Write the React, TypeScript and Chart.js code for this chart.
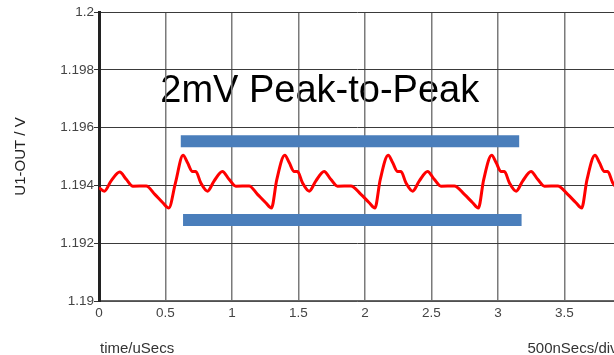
import React, { useEffect, useRef } from "react";
import { Chart, registerables } from "chart.js";

Chart.register(...registerables);

// ---- Data ----
const timeUs: number[] = [
  0.0, 0.04, 0.09, 0.156, 0.205, 0.255, 0.355, 0.42, 0.48, 0.525, 0.575,
  0.632, 0.665, 0.703, 0.728, 0.765, 0.816, 0.865, 0.928, 0.978, 1.029, 1.129,
  1.192, 1.254, 1.297, 1.337,
  1.397, 1.43, 1.468, 1.493, 1.53, 1.581, 1.63, 1.693, 1.743, 1.794, 1.894,
  1.97, 2.032, 2.075, 2.115,
  2.175, 2.208, 2.246, 2.271, 2.308, 2.359, 2.408, 2.471, 2.521, 2.572, 2.672,
  2.748, 2.81, 2.853, 2.893,
  2.953, 2.986, 3.024, 3.049, 3.086, 3.137, 3.186, 3.249, 3.299, 3.35, 3.45,
  3.525, 3.587, 3.63, 3.67,
  3.73, 3.763, 3.801, 3.826, 3.863, 3.914,
];
const outV: number[] = [
  1.19392, 1.1938, 1.19415, 1.19446, 1.19421, 1.19397, 1.19398, 1.19369, 1.1934, 1.19322, 1.19409,
  1.19504, 1.19479, 1.19448, 1.19448, 1.19409, 1.1938, 1.19415, 1.19448, 1.19421, 1.19397, 1.19398,
  1.19369, 1.1934, 1.19322, 1.1942,
  1.19504, 1.19479, 1.19448, 1.19448, 1.19409, 1.1938, 1.19415, 1.19448, 1.19421, 1.19397, 1.19398,
  1.19369, 1.1934, 1.19322, 1.1942,
  1.19504, 1.19479, 1.19448, 1.19448, 1.19409, 1.1938, 1.19415, 1.19448, 1.19421, 1.19397, 1.19398,
  1.19369, 1.1934, 1.19322, 1.1942,
  1.19504, 1.19479, 1.19448, 1.19448, 1.19409, 1.1938, 1.19415, 1.19448, 1.19421, 1.19397, 1.19398,
  1.19369, 1.1934, 1.19322, 1.1942,
  1.19504, 1.19479, 1.19448, 1.19448, 1.19409, 1.1938,
];

// Peak-to-peak marker bars
const topBarX: number[] = [0.615, 3.16];
const topBarV = 1.195525;
const bottomBarX: number[] = [0.632, 3.178];
const bottomBarV = 1.192806;

// Tick values
const xTickValues: number[] = [0, 0.5, 1, 1.5, 2, 2.5, 3, 3.5];
const yTickValues: number[] = [1.19, 1.192, 1.194, 1.196, 1.198, 1.2];
const yTickLabels: string[] = ["1.19", "1.192", "1.194", "1.196", "1.198", "1.2"];
const xTickLabels: string[] = ["0", "0.5", "1", "1.5", "2", "2.5", "3", "3.5"];

// Texts
const annotationText = "2mV Peak-to-Peak";
const annotationX = 0.461;
const annotationV = 1.196903;
const yTitle = "U1-OUT / V";
const xTitleLeft = "time/uSecs";
const xTitleRight = "500nSecs/div";

const FONT = '"Liberation Sans", Arial, Helvetica, sans-serif';

export default function App() {
  const ref = useRef<HTMLCanvasElement | null>(null);

  useEffect(() => {
    if (!ref.current) return;

    const textPlugin = {
      id: "texts",
      beforeDraw(chart: any) {
        const { ctx, scales, chartArea } = chart;
        const x = scales.x;
        const y = scales.y;
        ctx.save();
        ctx.fillStyle = "#000";
        ctx.textBaseline = "alphabetic";
        ctx.textAlign = "left";
        ctx.font = `38px ${FONT}`;
        ctx.fillText(annotationText, x.getPixelForValue(annotationX), y.getPixelForValue(annotationV));
        ctx.fillStyle = "#333";
        ctx.font = `15px ${FONT}`;
        ctx.fillText(xTitleLeft, chartArea.left + 1, 353);
        ctx.fillText(xTitleRight, 527.5, 353);
        ctx.restore();
      },
    };

    const chart = new Chart(ref.current, {
      type: "line",
      data: {
        datasets: [
          {
            data: timeUs.map((t, i) => ({ x: t, y: outV[i] })),
            borderColor: "#ff0000",
            borderWidth: 3,
            pointRadius: 0,
            cubicInterpolationMode: "monotone",
            fill: false,
          },
          {
            data: topBarX.map((t) => ({ x: t, y: topBarV })),
            borderColor: "#4a7ebb",
            borderWidth: 12,
            borderCapStyle: "butt",
            pointRadius: 0,
            fill: false,
          },
          {
            data: bottomBarX.map((t) => ({ x: t, y: bottomBarV })),
            borderColor: "#4a7ebb",
            borderWidth: 12,
            borderCapStyle: "butt",
            pointRadius: 0,
            fill: false,
          },
        ],
      },
      options: {
        responsive: false,
        animation: false,
        layout: { padding: { top: 12, right: 0, left: 0, bottom: 0 } },
        plugins: {
          legend: { display: false },
          tooltip: { enabled: false },
        },
        scales: {
          x: {
            type: "linear",
            min: 0,
            max: 3.873,
            afterBuildTicks: (scale: any) => {
              scale.ticks = xTickValues.map((v) => ({ value: v }));
            },
            afterFit: (scale: any) => {
              scale.height = 54;
            },
            ticks: {
              callback: (v: any) => {
                const i = xTickValues.findIndex((t) => Math.abs(t - v) < 1e-9);
                return i >= 0 ? xTickLabels[i] : "";
              },
              color: "#444",
              font: { family: FONT, size: 13.5 },
              padding: 4,
              maxRotation: 0,
              autoSkip: false,
            },
            grid: {
              color: "#7a7a7a",
              lineWidth: 1.5,
              drawTicks: false,
              tickLength: 0,
            },
            border: { color: "#666", width: 1.5 },
          },
          y: {
            type: "linear",
            min: 1.19,
            max: 1.2,
            afterBuildTicks: (scale: any) => {
              scale.ticks = yTickValues.map((v) => ({ value: v }));
            },
            afterFit: (scale: any) => {
              scale.width = 99;
            },
            ticks: {
              callback: (v: any) => {
                const i = yTickValues.findIndex((t) => Math.abs(t - v) < 1e-9);
                return i >= 0 ? yTickLabels[i] : "";
              },
              color: "#444",
              font: { family: FONT, size: 13.5 },
              padding: 0,
              autoSkip: false,
            },
            grid: {
              color: "#3a3a3a",
              lineWidth: 1,
              tickLength: 5,
              tickColor: "#333",
            },
            border: { color: "#222", width: 3 },
            title: {
              display: true,
              text: yTitle,
              color: "#222",
              font: { family: FONT, size: 15 },
              padding: { top: 12, bottom: 4 },
            },
          },
        },
      },
      plugins: [textPlugin],
    } as any);

    return () => chart.destroy();
  }, []);

  return (
    <div style={{ position: "fixed", left: 0, top: 0, width: 614, height: 355, background: "#fff" }}>
      <canvas ref={ref} width={614} height={355} />
    </div>
  );
}
